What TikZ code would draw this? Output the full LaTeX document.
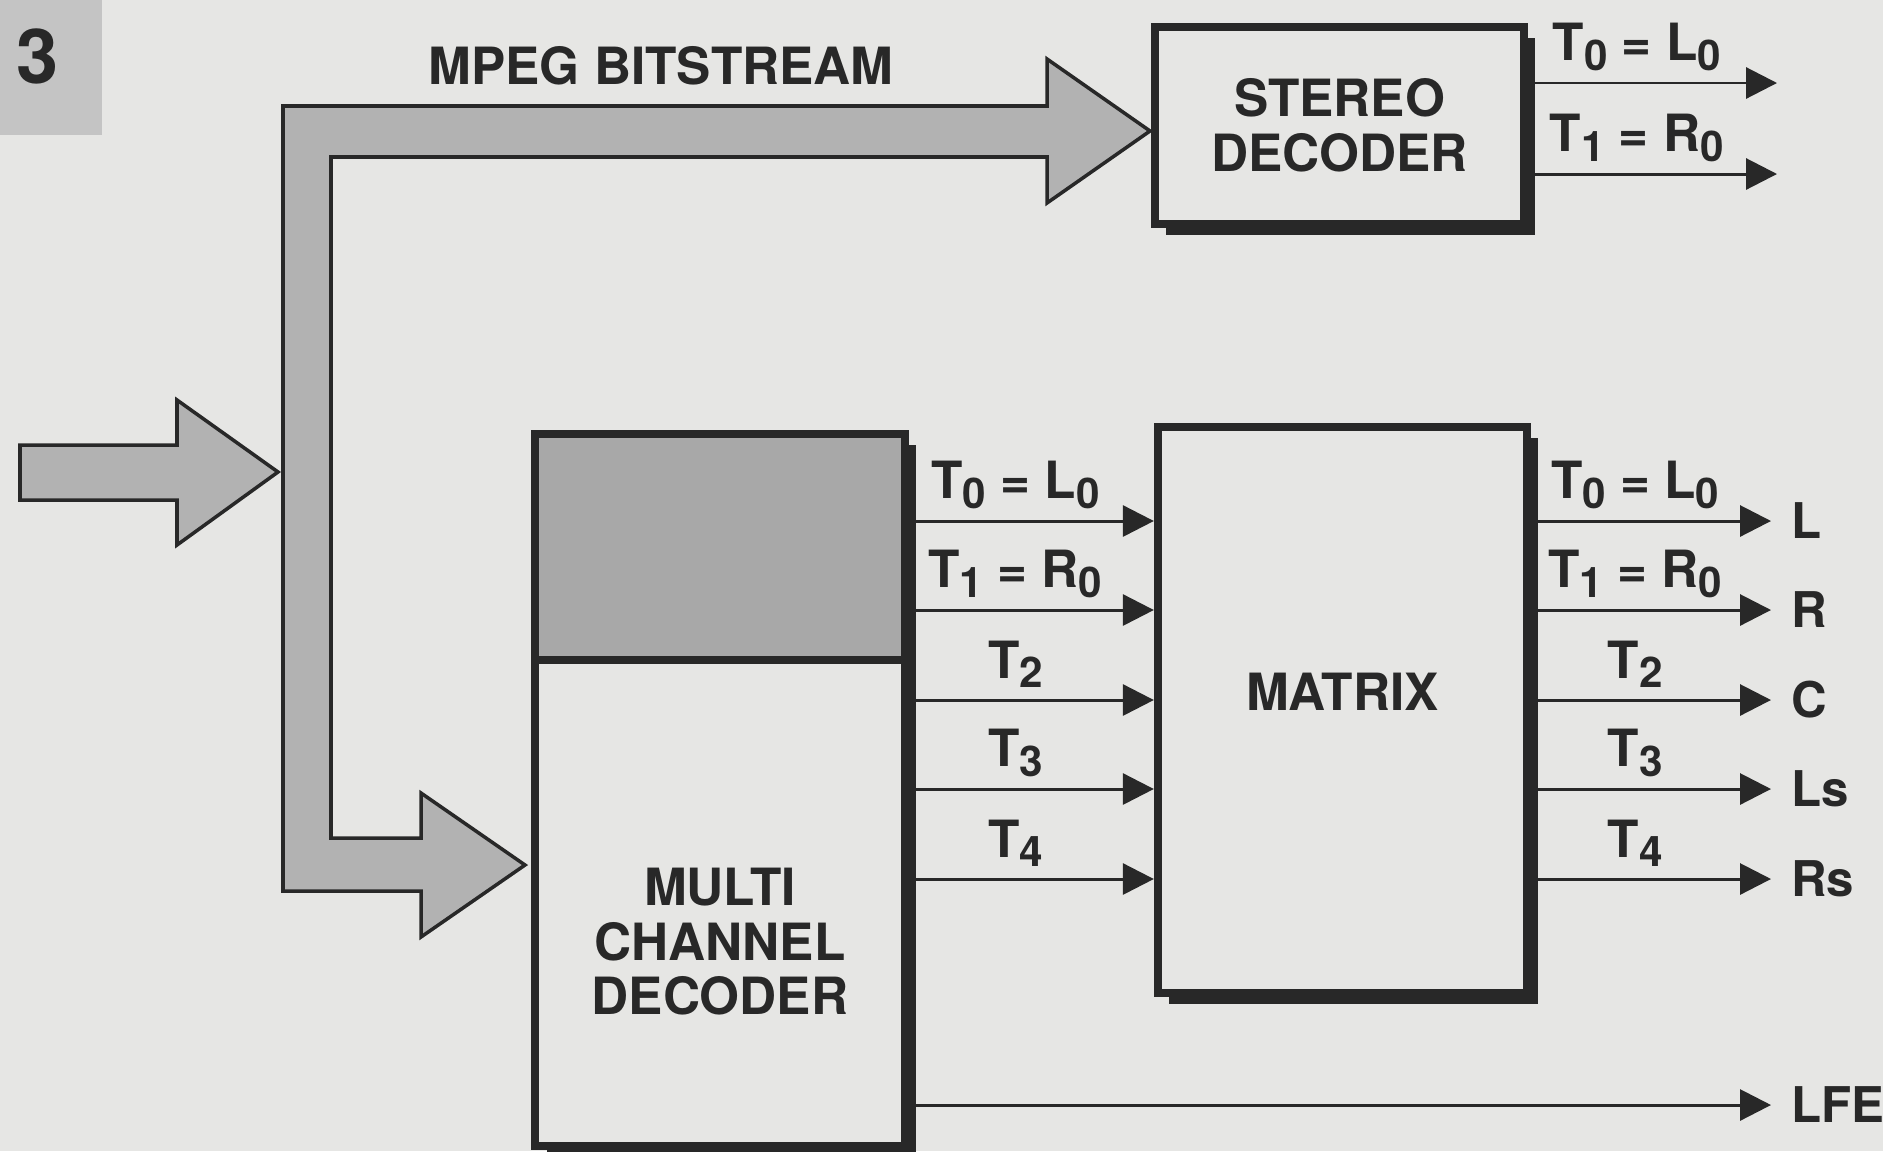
\documentclass[tikz,border=0pt]{standalone}
\usepackage{fontspec}
\setmainfont{TeX Gyre Heros}
\usetikzlibrary{arrows.meta,shadows}
\definecolor{paper}{RGB}{230,230,228}
\definecolor{ink}{RGB}{40,40,40}
\definecolor{bandgray}{RGB}{178,178,178}
\definecolor{topgray}{RGB}{168,168,168}
\definecolor{numgray}{RGB}{196,196,196}
\newcommand{\chsub}[1]{\raisebox{-2.8pt}{\fontsize{12}{12}\selectfont #1}}

\begin{document}
\begin{tikzpicture}[x=0.01cm, y=-0.01cm, ink,
	font=\fontsize{14.6}{15.5}\selectfont\bfseries,
	block/.style={draw=ink, line width=2.3pt, fill=paper, inner sep=0pt, minimum width=3.69cm,
		drop shadow={shadow xshift=3.2pt, shadow yshift=-3.2pt, fill=ink, opacity=1}},
	band/.style={draw=ink, line width=1pt, fill=bandgray, line join=miter},
	sig/.style={draw=ink, line width=0.85pt, -{Triangle[length=8.8pt, width=8.8pt]}},
	chan/.style={midway, above, inner sep=3pt, xshift=-4.5pt},
	speaker/.style={anchor=west, inner xsep=5.5pt, inner ysep=0pt, font=\fontsize{14}{14}\selectfont\bfseries}]
	\fill[paper] (0,0) rectangle (1883,1151);
	\useasboundingbox (0,0) rectangle (1883,1151);
	\fill[numgray] (0,0) rectangle (102,135);
	\node[font=\fontsize{21.5}{22}\selectfont\bfseries] (fignum) at (38,56) {3};
	\node (mpeg) at (661,66) {MPEG BITSTREAM};

	\draw[band] (283,106) -- (1047,106) -- (1047,59) -- (1150,131) -- (1047,203) -- (1047,157) -- (331,157) -- (331,838) -- (421,838) -- (421,793) -- (525,865) -- (421,937) -- (421,891) -- (283,891) -- cycle;
	\draw[band] (20,445) -- (177,445) -- (177,400) -- (278,472) -- (177,545) -- (177,500) -- (20,500) -- cycle;

	\node[block, minimum height=1.97cm, align=center] (stereo) at (1339.5,125.5) {STEREO\\DECODER};
	\node[block, minimum height=5.66cm, label={[yshift=5.1pt]center:MATRIX}] (matrix) at (1342.5,710) {};
	\node[block, minimum height=7.12cm, label={[align=center, yshift=-43.2pt]center:{MULTI\\CHANNEL\\DECODER}}] (multi) at (720,790) {};
	\coordinate (split) at (720,660);
	\fill[topgray] ([shift={(2.3pt,-2.3pt)}]multi.north west) rectangle ([xshift=-2.3pt]multi.east |- split);
	\draw[ink, line width=2.3pt] (multi.west |- split) -- (multi.east |- split);

	\coordinate (st0) at (1777,83);
	\coordinate (st1) at (1777,174);
	\draw[sig] (stereo.east |- st0) -- (st0) node[chan] {T\chsub{0} = L\chsub{0}};
	\draw[sig] (stereo.east |- st1) -- (st1) node[chan] {T\chsub{1} = R\chsub{0}};

	\node[speaker] (L) at (1771,521) {L};
	\node[speaker] (R) at (1771,610) {R};
	\node[speaker] (C) at (1771,700) {C};
	\node[speaker] (Ls) at (1771,789) {Ls};
	\node[speaker] (Rs) at (1771,879) {Rs};
	\node[speaker] (LFE) at (1771,1105) {LFE};

	\draw[sig] (multi.east |- L) -- (matrix.west |- L) node[chan] {T\chsub{0} = L\chsub{0}};
	\draw[sig] (multi.east |- R) -- (matrix.west |- R) node[chan] {T\chsub{1} = R\chsub{0}};
	\draw[sig] (multi.east |- C) -- (matrix.west |- C) node[chan] {T\chsub{2}};
	\draw[sig] (multi.east |- Ls) -- (matrix.west |- Ls) node[chan] {T\chsub{3}};
	\draw[sig] (multi.east |- Rs) -- (matrix.west |- Rs) node[chan] {T\chsub{4}};

	\draw[sig] (matrix.east |- L) -- (L) node[chan] {T\chsub{0} = L\chsub{0}};
	\draw[sig] (matrix.east |- R) -- (R) node[chan] {T\chsub{1} = R\chsub{0}};
	\draw[sig] (matrix.east |- C) -- (C) node[chan] {T\chsub{2}};
	\draw[sig] (matrix.east |- Ls) -- (Ls) node[chan] {T\chsub{3}};
	\draw[sig] (matrix.east |- Rs) -- (Rs) node[chan] {T\chsub{4}};
	\draw[sig] (multi.east |- LFE) -- (LFE);
\end{tikzpicture}
\end{document}
